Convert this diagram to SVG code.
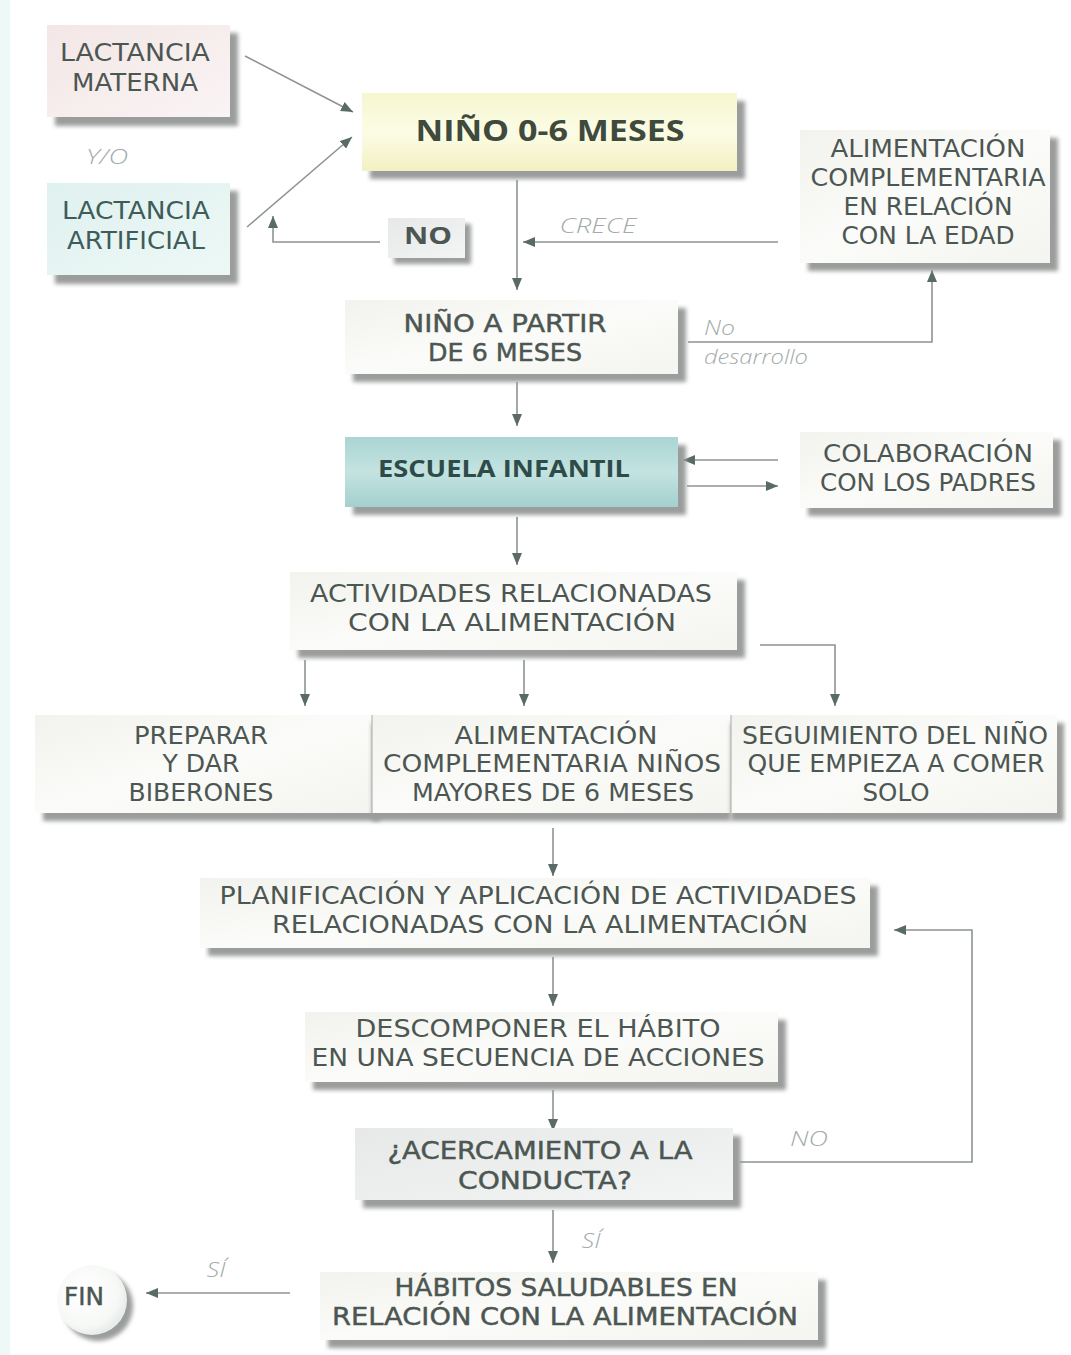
<svg xmlns="http://www.w3.org/2000/svg" width="1071" height="1355" viewBox="0 0 1071 1355">
  <defs>
    <marker id="arrow" markerUnits="userSpaceOnUse" markerWidth="13" markerHeight="10" refX="12" refY="5" orient="auto">
      <path d="M0,0 L12,5 L0,10 z" fill="#5a6a66"/>
    </marker>
    <filter id="soft" x="-10%" y="-10%" width="130%" height="140%">
      <feGaussianBlur stdDeviation="2"/>
    </filter>
    <linearGradient id="gWhite" x1="0" y1="0" x2="1" y2="1">
      <stop offset="0" stop-color="#f2f3ee"/>
      <stop offset="0.5" stop-color="#fbfbf9"/>
      <stop offset="1" stop-color="#f4f5f0"/>
    </linearGradient>
    <linearGradient id="gPink" x1="0" y1="0" x2="1" y2="1">
      <stop offset="0" stop-color="#f3e6e6"/>
      <stop offset="1" stop-color="#faf4f4"/>
    </linearGradient>
    <linearGradient id="gCyan" x1="0" y1="0" x2="1" y2="1">
      <stop offset="0" stop-color="#dff1ef"/>
      <stop offset="1" stop-color="#edf8f6"/>
    </linearGradient>
    <linearGradient id="gYellow" x1="0" y1="0" x2="0" y2="1">
      <stop offset="0" stop-color="#f6f6cf"/>
      <stop offset="0.5" stop-color="#fcfce6"/>
      <stop offset="1" stop-color="#f2f1c2"/>
    </linearGradient>
    <linearGradient id="gTeal" x1="0" y1="0" x2="0" y2="1">
      <stop offset="0" stop-color="#a9d5d3"/>
      <stop offset="0.5" stop-color="#c4e3e1"/>
      <stop offset="1" stop-color="#a3d0ce"/>
    </linearGradient>
    <linearGradient id="gGrey" x1="0" y1="0" x2="1" y2="1">
      <stop offset="0" stop-color="#e6e9e8"/>
      <stop offset="1" stop-color="#f3f5f4"/>
    </linearGradient>
    <radialGradient id="gFin" cx="0.4" cy="0.4" r="0.6">
      <stop offset="0" stop-color="#ffffff"/>
      <stop offset="0.8" stop-color="#f6f8f6"/>
      <stop offset="1" stop-color="#e8ecea"/>
    </radialGradient>
  </defs>
  <style>
    text { font-family: "DejaVu Sans", "Liberation Sans", sans-serif; text-anchor: middle; fill: #4c5652; font-size: 24px; }
    .b { font-family: "Open Sans", "DejaVu Sans", sans-serif; font-weight: 700; }
    .sb { stroke: #4c5652; stroke-width: 0.45; }
    .lbl { font-family: "Open Sans", "DejaVu Sans", sans-serif; font-style: italic; fill: #a3acaa; font-size: 20px; font-weight: 300; }
    .lbl-l { text-anchor: start; }
    .teal { fill: #3e5c59; }
    .shadow { fill: #9a9d9b; filter: url(#soft); }
    .edge { fill: none; stroke: #8d9492; stroke-width: 1.6; marker-end: url(#arrow); }
    .div { stroke: #b4b8b6; stroke-width: 1.2; }
  </style>

  <rect x="0" y="0" width="1071" height="1355" fill="#ffffff"/>
  <rect x="0" y="0" width="10" height="1355" fill="#eef8f6"/>

  <!-- connectors -->
  <g id="connectors">
    <line class="edge" x1="245" y1="56" x2="353" y2="112"/>
    <line class="edge" x1="247" y1="227" x2="352" y2="137"/>
    <polyline class="edge" points="380,242 273,242 273,216"/>
    <line class="edge" x1="517" y1="180" x2="517" y2="290"/>
    <line class="edge" x1="778" y1="242" x2="523" y2="242"/>
    <polyline class="edge" points="688,342 932,342 932,270"/>
    <line class="edge" x1="517" y1="382" x2="517" y2="426"/>
    <line class="edge" x1="778" y1="460" x2="683" y2="460"/>
    <line class="edge" x1="687" y1="486" x2="778" y2="486"/>
    <line class="edge" x1="517" y1="517" x2="517" y2="565"/>
    <line class="edge" x1="305" y1="660" x2="305" y2="706"/>
    <line class="edge" x1="524" y1="660" x2="524" y2="706"/>
    <polyline class="edge" points="760,645 835,645 835,706"/>
    <line class="edge" x1="553" y1="828" x2="553" y2="876"/>
    <polyline class="edge" points="740,1162 972,1162 972,930 894,930"/>
    <line class="edge" x1="553" y1="957" x2="553" y2="1006"/>
    <line class="edge" x1="553" y1="1090" x2="553" y2="1131"/>
    <line class="edge" x1="553" y1="1210" x2="553" y2="1263"/>
    <line class="edge" x1="290" y1="1293" x2="146" y2="1293"/>
    <text class="lbl" x="107" y="164" textLength="42" lengthAdjust="spacingAndGlyphs">Y/O</text>
    <text class="lbl" x="598" y="233" textLength="77" lengthAdjust="spacingAndGlyphs">CRECE</text>
    <text class="lbl lbl-l" x="704" y="335" textLength="31" lengthAdjust="spacingAndGlyphs">No</text>
    <text class="lbl lbl-l" x="704" y="364" textLength="104" lengthAdjust="spacingAndGlyphs">desarrollo</text>
    <text class="lbl" x="809" y="1146" textLength="38" lengthAdjust="spacingAndGlyphs">NO</text>
    <text class="lbl" x="591" y="1248" textLength="19" lengthAdjust="spacingAndGlyphs">SÍ</text>
    <text class="lbl" x="216" y="1277" textLength="19" lengthAdjust="spacingAndGlyphs">SÍ</text>
  </g>

  <g id="lactancia-materna">
    <rect class="shadow" x="55" y="33" width="183" height="93"/>
    <rect x="47" y="25" width="183" height="92" fill="url(#gPink)"/>
    <text x="135" y="61" textLength="150" lengthAdjust="spacingAndGlyphs">LACTANCIA</text>
    <text x="135" y="91" textLength="126" lengthAdjust="spacingAndGlyphs">MATERNA</text>
  </g>

  <g id="lactancia-artificial">
    <rect class="shadow" x="55" y="191" width="183" height="93"/>
    <rect x="47" y="183" width="183" height="92" fill="url(#gCyan)"/>
    <text class="teal" x="136" y="219" textLength="148" lengthAdjust="spacingAndGlyphs">LACTANCIA</text>
    <text class="teal" x="136" y="249" textLength="138" lengthAdjust="spacingAndGlyphs">ARTIFICIAL</text>
  </g>

  <g id="nino-0-6">
    <rect class="shadow" x="370" y="101" width="375" height="78"/>
    <rect x="362" y="93" width="375" height="78" fill="url(#gYellow)"/>
    <text class="b" x="550" y="141" style="font-size:29px; fill:#3f4a3c" textLength="269" lengthAdjust="spacingAndGlyphs">NIÑO 0-6 MESES</text>
  </g>

  <g id="no-box">
    <rect class="shadow" x="394" y="224" width="77" height="40"/>
    <rect x="388" y="218" width="77" height="40" fill="url(#gGrey)"/>
    <text class="b" x="428" y="244" textLength="48" lengthAdjust="spacingAndGlyphs">NO</text>
  </g>

  <g id="alimentacion-edad">
    <rect class="shadow" x="808" y="138" width="250" height="133"/>
    <rect x="800" y="130" width="250" height="133" fill="url(#gWhite)"/>
    <text x="928" y="157" textLength="195" lengthAdjust="spacingAndGlyphs">ALIMENTACIÓN</text>
    <text x="928" y="186" textLength="235" lengthAdjust="spacingAndGlyphs">COMPLEMENTARIA</text>
    <text x="928" y="215" textLength="169" lengthAdjust="spacingAndGlyphs">EN RELACIÓN</text>
    <text x="928" y="244" textLength="173" lengthAdjust="spacingAndGlyphs">CON LA EDAD</text>
  </g>

  <g id="nino-6-meses">
    <rect class="shadow" x="353" y="308" width="333" height="74"/>
    <rect x="345" y="300" width="333" height="74" fill="url(#gWhite)"/>
    <text class="sb" x="505" y="332" textLength="203" lengthAdjust="spacingAndGlyphs">NIÑO A PARTIR</text>
    <text class="sb" x="505" y="361" textLength="154" lengthAdjust="spacingAndGlyphs">DE 6 MESES</text>
  </g>

  <g id="escuela-infantil">
    <rect class="shadow" x="353" y="445" width="333" height="70"/>
    <rect x="345" y="437" width="333" height="70" fill="url(#gTeal)"/>
    <text class="b" x="504" y="477" style="fill:#2f4b49" textLength="252" lengthAdjust="spacingAndGlyphs">ESCUELA INFANTIL</text>
  </g>

  <g id="colaboracion-padres">
    <rect class="shadow" x="808" y="440" width="253" height="76"/>
    <rect x="800" y="432" width="253" height="76" fill="url(#gWhite)"/>
    <text x="928" y="462" textLength="210" lengthAdjust="spacingAndGlyphs">COLABORACIÓN</text>
    <text x="928" y="491" textLength="216" lengthAdjust="spacingAndGlyphs">CON LOS PADRES</text>
  </g>

  <g id="actividades">
    <rect class="shadow" x="298" y="580" width="447" height="78"/>
    <rect x="290" y="572" width="447" height="78" fill="url(#gWhite)"/>
    <text x="511" y="602" textLength="402" lengthAdjust="spacingAndGlyphs">ACTIVIDADES RELACIONADAS</text>
    <text x="512" y="631" textLength="328" lengthAdjust="spacingAndGlyphs">CON LA ALIMENTACIÓN</text>
  </g>

  <g id="preparar-biberones">
    <rect class="shadow" x="43" y="723" width="337" height="98"/>
    <rect x="35" y="715" width="337" height="98" fill="url(#gWhite)"/>
    <text x="201" y="744" textLength="134" lengthAdjust="spacingAndGlyphs">PREPARAR</text>
    <text x="201" y="772" textLength="77" lengthAdjust="spacingAndGlyphs">Y DAR</text>
    <text x="201" y="801" textLength="145" lengthAdjust="spacingAndGlyphs">BIBERONES</text>
  </g>

  <g id="alimentacion-mayores">
    <rect class="shadow" x="372" y="723" width="359" height="98"/>
    <rect x="372" y="715" width="359" height="98" fill="url(#gWhite)"/>
    <line class="div" x1="372" y1="715" x2="372" y2="813"/>
    <text x="556" y="744" textLength="203" lengthAdjust="spacingAndGlyphs">ALIMENTACIÓN</text>
    <text x="552" y="772" textLength="338" lengthAdjust="spacingAndGlyphs">COMPLEMENTARIA NIÑOS</text>
    <text x="553" y="801" textLength="282" lengthAdjust="spacingAndGlyphs">MAYORES DE 6 MESES</text>
  </g>

  <g id="seguimiento">
    <rect class="shadow" x="731" y="723" width="333" height="98"/>
    <rect x="731" y="715" width="326" height="98" fill="url(#gWhite)"/>
    <line class="div" x1="731" y1="715" x2="731" y2="813"/>
    <text x="895" y="744" textLength="306" lengthAdjust="spacingAndGlyphs">SEGUIMIENTO DEL NIÑO</text>
    <text x="896" y="772" textLength="297" lengthAdjust="spacingAndGlyphs">QUE EMPIEZA A COMER</text>
    <text x="896" y="801" textLength="67" lengthAdjust="spacingAndGlyphs">SOLO</text>
  </g>

  <g id="planificacion">
    <rect class="shadow" x="208" y="886" width="670" height="70"/>
    <rect x="200" y="878" width="670" height="70" fill="url(#gWhite)"/>
    <text x="538" y="904" textLength="637" lengthAdjust="spacingAndGlyphs">PLANIFICACIÓN Y APLICACIÓN DE ACTIVIDADES</text>
    <text x="540" y="933" textLength="536" lengthAdjust="spacingAndGlyphs">RELACIONADAS CON LA ALIMENTACIÓN</text>
  </g>

  <g id="descomponer">
    <rect class="shadow" x="313" y="1020" width="473" height="70"/>
    <rect x="305" y="1012" width="473" height="70" fill="url(#gWhite)"/>
    <text x="538" y="1037" textLength="365" lengthAdjust="spacingAndGlyphs">DESCOMPONER EL HÁBITO</text>
    <text x="538" y="1066" textLength="453" lengthAdjust="spacingAndGlyphs">EN UNA SECUENCIA DE ACCIONES</text>
  </g>

  <g id="acercamiento">
    <rect class="shadow" x="363" y="1136" width="378" height="72"/>
    <rect x="355" y="1128" width="378" height="72" fill="url(#gGrey)"/>
    <text class="sb" x="540" y="1159" textLength="305" lengthAdjust="spacingAndGlyphs">¿ACERCAMIENTO A LA</text>
    <text class="sb" x="545" y="1189" textLength="174" lengthAdjust="spacingAndGlyphs">CONDUCTA?</text>
  </g>

  <g id="habitos">
    <rect class="shadow" x="328" y="1280" width="498" height="68"/>
    <rect x="320" y="1272" width="498" height="68" fill="url(#gWhite)"/>
    <text class="sb" x="566" y="1296" textLength="343" lengthAdjust="spacingAndGlyphs">HÁBITOS SALUDABLES EN</text>
    <text class="sb" x="565" y="1325" textLength="466" lengthAdjust="spacingAndGlyphs">RELACIÓN CON LA ALIMENTACIÓN</text>
  </g>

  <g id="fin">
    <circle class="shadow" cx="98" cy="1306" r="35"/>
    <circle cx="92" cy="1300" r="35" fill="url(#gFin)"/>
    <text class="sb" x="84" y="1305" textLength="40" lengthAdjust="spacingAndGlyphs">FIN</text>
  </g>
</svg>
